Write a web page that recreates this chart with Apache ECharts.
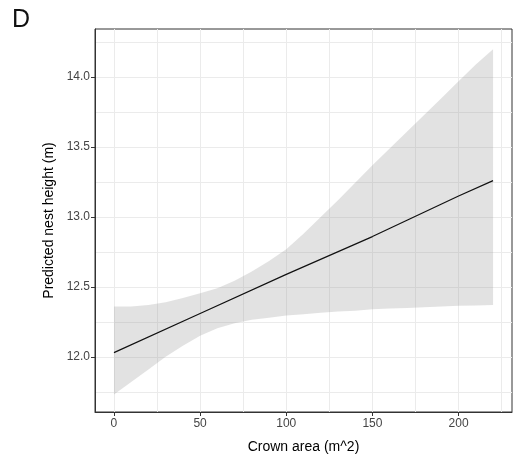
<!DOCTYPE html>
<html>
<head>
<meta charset="utf-8">
<script src="https://cdn.jsdelivr.net/npm/echarts@6/dist/echarts.min.js"></script>
<style>html,body{margin:0;padding:0;background:#fff;}#c{width:517px;height:459px;}</style>
</head>
<body>
<div id="c"></div>
<script>
// Crown area values (x) at which the band was read
var crownArea = [0, 10, 20, 30, 40, 50, 60, 70, 80, 90, 100, 110, 120, 130, 140, 150, 160, 170, 180, 190, 200, 210, 220];
// Upper and lower confidence limits
var upperCI = [12.36, 12.36, 12.37, 12.39, 12.42, 12.455, 12.49, 12.545, 12.61, 12.685, 12.77, 12.88, 13.0, 13.12, 13.245, 13.37, 13.49, 13.61, 13.73, 13.85, 13.97, 14.09, 14.2];
var lowerCI = [11.73, 11.82, 11.91, 12.0, 12.08, 12.15, 12.205, 12.24, 12.265, 12.28, 12.295, 12.305, 12.315, 12.325, 12.33, 12.34, 12.345, 12.35, 12.355, 12.36, 12.365, 12.368, 12.37];
// Fitted line
var fitX = [0, 50, 100, 150, 200, 220];
var fitY = [12.03, 12.31, 12.59, 12.86, 13.15, 13.26];
// Tick labels
var xTicks = [0, 50, 100, 150, 200];
var yTicks = [12.0, 12.5, 13.0, 13.5, 14.0];
var xGrid = [0, 25, 50, 75, 100, 125, 150, 175, 200, 225];
var yGrid = [11.75, 12.0, 12.25, 12.5, 12.75, 13.0, 13.25, 13.5, 13.75, 14.0, 14.25];

var chart = echarts.init(document.getElementById('c'), null, {renderer: 'canvas'});
var font = 'Liberation Sans, Arial, sans-serif';

var gridMarks = [];
xGrid.forEach(function (v) { gridMarks.push({xAxis: v}); });
yGrid.forEach(function (v) { gridMarks.push({yAxis: v}); });

var fitData = fitX.map(function (x, i) { return [x, fitY[i]]; });

chart.setOption({
  animation: false,
  backgroundColor: '#ffffff',
  title: {
    text: 'D', left: 7, top: 3,
    textStyle: {fontFamily: font, fontSize: 25, fontWeight: 'normal', color: '#111'}
  },
  grid: {
    left: 95, top: 29, right: 5, bottom: 45,
    show: true, borderColor: '#333', borderWidth: 1, backgroundColor: 'transparent'
  },
  xAxis: {
    type: 'value', min: -11, max: 231,
    name: 'Crown area (m^2)', nameLocation: 'middle', nameGap: 28,
    nameTextStyle: {fontFamily: font, fontSize: 14, color: '#000'},
    axisLine: {show: true, onZero: false, lineStyle: {color: '#333', width: 1}},
    axisTick: {show: true, length: 4, lineStyle: {color: '#333'}, customValues: xTicks},
    axisLabel: {fontFamily: font, fontSize: 12, color: '#444', margin: 6, customValues: xTicks},
    splitLine: {show: false}
  },
  yAxis: {
    type: 'value', min: 11.6055, max: 14.3445,
    name: 'Predicted nest height (m)', nameLocation: 'middle', nameGap: 38,
    nameTextStyle: {fontFamily: font, fontSize: 14, color: '#000'},
    axisLine: {show: true, onZero: false, lineStyle: {color: '#333', width: 1}},
    axisTick: {show: true, length: 4, lineStyle: {color: '#333'}, customValues: yTicks},
    axisLabel: {fontFamily: font, fontSize: 12, color: '#444', margin: 5, customValues: yTicks,
      formatter: function (v) { return v.toFixed(1); }},
    splitLine: {show: false}
  },
  series: [
    {
      // carrier for the background grid lines
      type: 'line', data: fitData, symbol: 'none', silent: true,
      lineStyle: {width: 0, opacity: 0},
      markLine: {
        silent: true, symbol: ['none', 'none'], label: {show: false}, z: 0,
        lineStyle: {color: '#ebebeb', width: 1, type: 'solid'},
        emphasis: {disabled: true},
        data: gridMarks, animation: false
      },
      z: 0
    },
    {
      type: 'custom', silent: true, z: 2,
      data: [0],
      renderItem: function (params, api) {
        var pts = [];
        for (var i = 0; i < crownArea.length; i++) pts.push(api.coord([crownArea[i], upperCI[i]]));
        for (var j = crownArea.length - 1; j >= 0; j--) pts.push(api.coord([crownArea[j], lowerCI[j]]));
        return {
          type: 'polygon',
          shape: {points: pts, smooth: 0},
          style: {fill: 'rgba(150,150,150,0.28)', stroke: null}
        };
      }
    },
    {
      type: 'line', data: fitData,
      symbol: 'none', silent: true,
      lineStyle: {color: '#111', width: 1.2},
      z: 5
    }
  ]
});
</script>
</body>
</html>
